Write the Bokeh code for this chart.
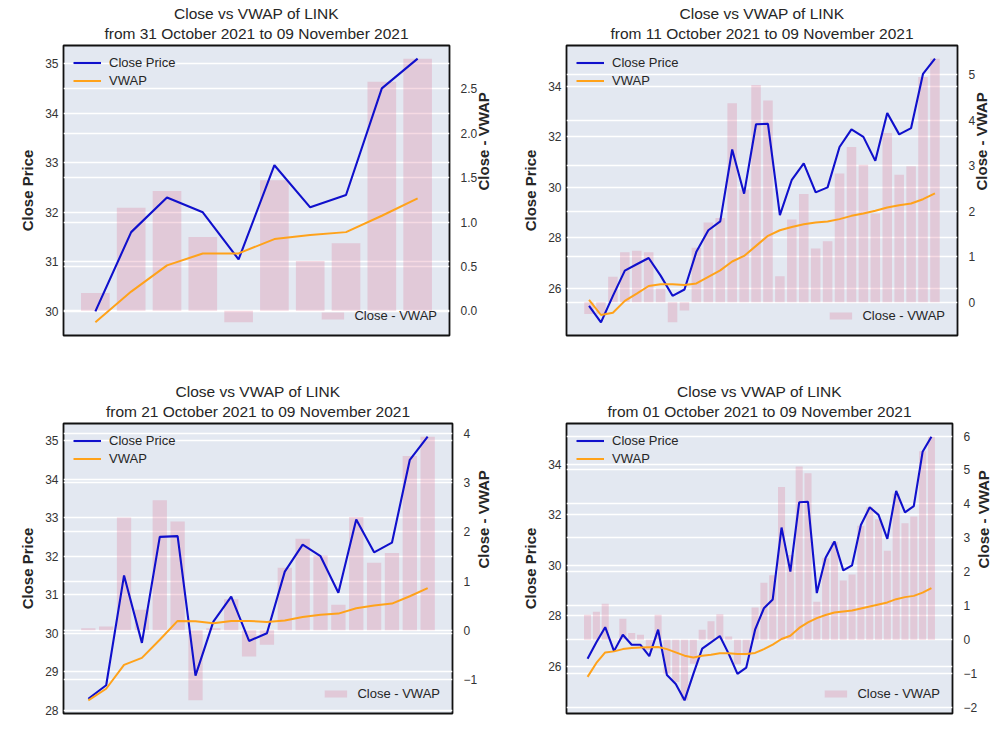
import math
from bokeh.plotting import figure
from bokeh.models import (Range1d, LinearAxis, FixedTicker, CustomJSTickFormatter,
                          Grid, Legend, LegendItem, Title)
from bokeh.layouts import column, row
from bokeh.embed import file_html
from bokeh.resources import INLINE

# ---------------- data ----------------
end_label = "09 November 2021"
start_labels = ["31 October 2021", "11 October 2021", "21 October 2021", "01 October 2021"]

# daily close price of LINK, 01 Oct 2021 .. 09 Nov 2021 (40 days)
close_all = [26.30, 26.95, 27.55, 26.60, 27.25, 26.85, 26.85, 26.40, 27.45, 25.65,
             25.30, 24.65, 25.70, 26.70, 26.95, 27.20, 26.50, 25.70, 25.95, 27.45,
             28.30, 28.65, 31.50, 29.75, 32.50, 32.52, 28.90, 30.30, 30.95, 29.80,
             30.00, 31.60, 32.30, 32.00, 31.05, 32.95, 32.10, 32.35, 34.50, 35.10]

# cumulative VWAP from each start date
vwap_10 = [29.78, 30.40, 30.93, 31.17, 31.17, 31.46, 31.54, 31.60, 31.93, 32.28]
vwap_30 = [25.54, 24.94, 25.03, 25.50, 25.79, 26.09, 26.16, 26.16, 26.13, 26.19,
           26.45, 26.71, 27.06, 27.28, 27.68, 28.08, 28.30, 28.43, 28.54, 28.61,
           28.65, 28.74, 28.87, 28.96, 29.07, 29.20, 29.29, 29.36, 29.53, 29.76]
vwap_20 = [28.26, 28.56, 29.18, 29.36, 29.83, 30.32, 30.31, 30.26, 30.32, 30.32,
           30.29, 30.33, 30.42, 30.48, 30.51, 30.65, 30.72, 30.77, 30.96, 31.17]
vwap_40 = [25.58, 26.13, 26.55, 26.59, 26.68, 26.72, 26.74, 26.75, 26.76, 26.68,
           26.55, 26.42, 26.35, 26.42, 26.46, 26.52, 26.52, 26.49, 26.49, 26.53,
           26.68, 26.86, 27.08, 27.21, 27.52, 27.74, 27.91, 28.03, 28.13, 28.17,
           28.21, 28.29, 28.37, 28.45, 28.53, 28.66, 28.74, 28.79, 28.92, 29.10]

# Close - VWAP bars
diff_10 = [0.20, 1.16, 1.35, 0.83, -0.13, 1.47, 0.56, 0.76, 2.58, 2.84]
diff_30 = [-0.26, -0.26, 0.56, 1.10, 1.13, 1.10, 0.30, -0.44, -0.18, 1.20,
           1.75, 1.85, 4.37, 2.47, 4.77, 4.43, 0.57, 1.82, 2.38, 1.18,
           1.34, 2.83, 3.41, 3.02, 1.95, 3.72, 2.80, 2.99, 4.95, 5.35]
diff_20 = [0.04, 0.08, 2.29, 0.42, 2.64, 2.21, -1.42, 0.04, 0.63, -0.53,
           -0.29, 1.27, 1.86, 1.52, 0.52, 2.30, 1.37, 1.57, 3.54, 3.93]
diff_40 = [0.74, 0.83, 1.06, 0.02, 0.62, 0.20, 0.15, -0.30, 0.74, -1.00,
           -1.25, -1.78, -0.70, 0.30, 0.55, 0.75, 0.10, -0.72, -0.45, 0.95,
           1.68, 1.90, 4.50, 2.50, 5.10, 4.90, 1.12, 2.40, 2.88, 1.75,
           1.92, 3.36, 3.90, 3.55, 2.62, 4.30, 3.43, 3.63, 5.55, 5.98]

left_ticks_1 = [30, 31, 32, 33, 34, 35]
left_ticks_2 = [26, 28, 30, 32, 34]
left_ticks_3 = [28, 29, 30, 31, 32, 33, 34, 35]
left_ticks_4 = [26, 28, 30, 32, 34]
right_ticks_1 = [0.0, 0.5, 1.0, 1.5, 2.0, 2.5]
right_ticks_2 = [0, 1, 2, 3, 4, 5]
right_ticks_3 = [-1, 0, 1, 2, 3, 4]
right_ticks_4 = [-2, -1, 0, 1, 2, 3, 4, 5, 6]

FONT = "Liberation Sans"
TEXT = "#262626"
BG = "#e3e8f1"


def make_panel(start_label, close, vwap, diff, lticks, rticks, rdec,
               width, height, bl, br, bt, bb):
    n = len(close)
    xs = list(range(n))
    padx = 0.05 * (n - 1 + 0.8)
    lo = min(min(close), min(vwap))
    hi = max(max(close), max(vwap))
    pad = 0.05 * (hi - lo)
    dlo = min(0, min(diff))
    dhi = max(0, max(diff))
    dpad = 0.05 * (dhi - dlo)

    p = figure(width=width, height=height,
               x_range=Range1d(-0.4 - padx, n - 1 + 0.4 + padx),
               y_range=Range1d(lo - pad, hi + pad),
               output_backend="svg", toolbar_location=None,
               x_axis_location=None,
               min_border_left=bl, min_border_right=br,
               min_border_top=bt, min_border_bottom=bb)
    p.extra_y_ranges = {"diff": Range1d(dlo - dpad, dhi + dpad)}

    p.background_fill_color = BG
    p.border_fill_color = "white"
    p.outline_line_color = "#111111"
    p.outline_line_width = 1.8

    # two centred title lines: subtitle closest to the frame, main title outermost
    sub = Title(text="from " + start_label + " to " + end_label, align="center",
                text_font=FONT, text_font_size="15.5px", text_font_style="normal",
                text_color=TEXT, standoff=8)
    p.add_layout(sub, "above")
    p.title.text = "Close vs VWAP of LINK"
    p.title.align = "center"
    p.title.text_font = FONT
    p.title.text_font_size = "15.5px"
    p.title.text_font_style = "normal"
    p.title.text_color = TEXT
    p.title.standoff = -7

    # left axis
    ax = p.yaxis[0]
    ax.ticker = FixedTicker(ticks=lticks)
    ax.formatter = CustomJSTickFormatter(code="return tick.toFixed(0).replace('-', '\\u2212');")
    ax.axis_label = "Close Price"
    ax.axis_label_text_font = FONT
    ax.axis_label_text_font_size = "15px"
    ax.axis_label_text_font_style = "bold"
    ax.axis_label_text_color = TEXT
    ax.axis_label_standoff = 6
    ax.major_label_text_font = FONT
    ax.major_label_text_font_size = "12px"
    ax.major_label_text_color = "#333333"
    ax.major_label_standoff = 5
    ax.major_tick_out = 0
    ax.major_tick_in = 0
    ax.minor_tick_out = 0
    ax.minor_tick_in = 0
    ax.axis_line_color = None
    ax.major_tick_line_color = None
    ax.minor_tick_line_color = None

    p.ygrid.grid_line_color = "white"
    p.ygrid.grid_line_width = 1.3
    p.xgrid.visible = False

    # right axis
    rax = LinearAxis(y_range_name="diff", ticker=FixedTicker(ticks=rticks),
                     formatter=CustomJSTickFormatter(
                         code="return tick.toFixed(%d).replace('-', '\\u2212');" % rdec),
                     axis_label="Close - VWAP")
    rax.axis_label_text_font = FONT
    rax.axis_label_text_font_size = "15px"
    rax.axis_label_text_font_style = "bold"
    rax.axis_label_text_color = TEXT
    rax.axis_label_standoff = 3
    rax.axis_label_orientation = math.pi / 2
    rax.major_label_text_font = FONT
    rax.major_label_text_font_size = "12px"
    rax.major_label_text_color = "#333333"
    rax.major_label_standoff = 5
    rax.axis_line_color = None
    rax.major_tick_line_color = None
    rax.minor_tick_line_color = None
    p.add_layout(rax, "right")

    rgrid = Grid(dimension=1, ticker=FixedTicker(ticks=rticks), y_range_name="diff",
                 grid_line_color="white", grid_line_width=1.3)
    p.add_layout(rgrid)

    r_bar = p.vbar(x=xs, top=diff, bottom=0, width=0.8, y_range_name="diff",
                   fill_color="#db7093", fill_alpha=0.26, line_color=None)
    r_close = p.line(xs, close, line_color="#1010cc", line_width=2.1)
    r_vwap = p.line(xs, vwap, line_color="#ffa21a", line_width=2.0)

    leg1 = Legend(items=[LegendItem(label="Close Price", renderers=[r_close]),
                         LegendItem(label="VWAP", renderers=[r_vwap])],
                  location="top_left")
    leg2 = Legend(items=[LegendItem(label="Close - VWAP", renderers=[r_bar])],
                  location="bottom_right")
    for lg, gh in ((leg1, 15), (leg2, 9)):
        lg.background_fill_alpha = 0
        lg.border_line_alpha = 0
        lg.label_text_font = FONT
        lg.label_text_font_size = "13px"
        lg.label_text_color = TEXT
        lg.glyph_width = 28
        lg.glyph_height = gh
        lg.label_height = 15
        lg.spacing = 3
        lg.margin = 2
        lg.padding = 8
        lg.label_standoff = 8
        p.add_layout(lg)
    leg2.margin = 4
    return p


p1 = make_panel(start_labels[0], close_all[30:], vwap_10, diff_10, left_ticks_1,
                right_ticks_1, 1, 503, 382, 63, 50, 45, 47)
p2 = make_panel(start_labels[1], close_all[10:], vwap_30, diff_30, left_ticks_2,
                right_ticks_2, 0, 500, 382, 63, 46, 45, 47)
p3 = make_panel(start_labels[2], close_all[20:], vwap_20, diff_20, left_ticks_3,
                right_ticks_3, 0, 503, 361, 63, 50, 41, 30)
p4 = make_panel(start_labels[3], close_all, vwap_40, diff_40, left_ticks_4,
                right_ticks_4, 0, 500, 361, 63, 46, 41, 30)

layout = column(row(p1, p2), row(p3, p4))
open("out.html", "w").write(file_html(layout, INLINE))
